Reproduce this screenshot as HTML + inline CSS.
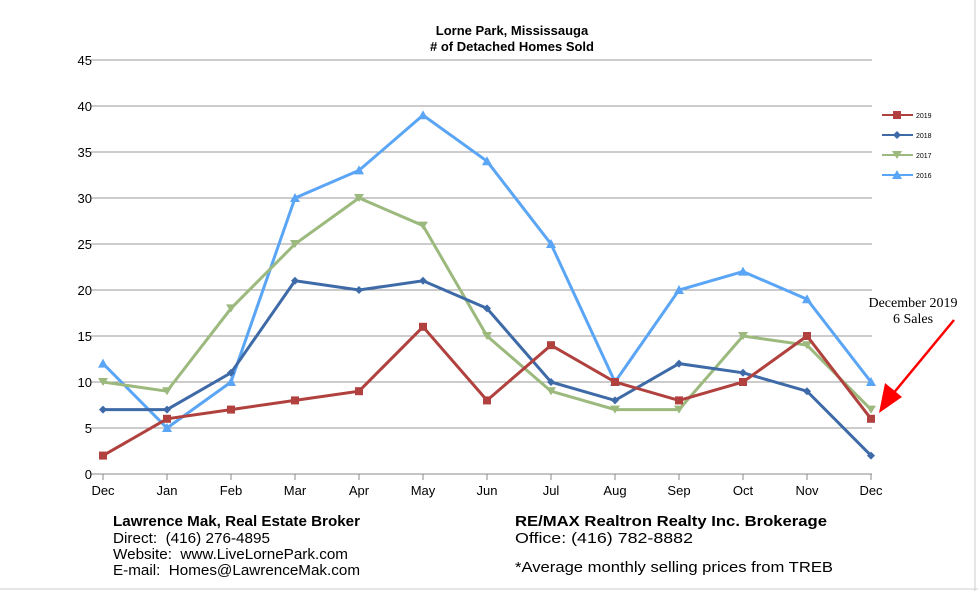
<!DOCTYPE html>
<html><head><meta charset="utf-8"><style>
body{margin:0;background:#fff;font-family:"Liberation Sans",Arial,sans-serif}
svg{display:block}
text{white-space:pre}
</style></head><body>
<svg width="978" height="591" xmlns="http://www.w3.org/2000/svg">
<line x1="975" y1="0" x2="975" y2="591" stroke="#ccc"/>
<line x1="0" y1="589" x2="978" y2="589" stroke="#ccc"/>
<text x="512" y="35" text-anchor="middle" font-size="13" font-weight="bold">Lorne Park, Mississauga</text>
<text x="512" y="51" text-anchor="middle" font-size="13" font-weight="bold"># of Detached Homes Sold</text>
<g id="grid"></g>
<g id="series"></g>
<g id="legend"></g>
<text x="913" y="307" text-anchor="middle" font-size="14" font-family="Liberation Serif,serif">December 2019</text>
<text x="913" y="323" text-anchor="middle" font-size="14" font-family="Liberation Serif,serif">6 Sales</text>
<g>
<line x1="954" y1="320" x2="892" y2="395" stroke="#f00" stroke-width="2.5"/>
<polygon points="879,413 885,383 902,397" fill="#f00"/>
</g>
<g font-size="14.5" lengthAdjust="spacingAndGlyphs">
<text x="113" y="526" font-weight="bold" textLength="247" lengthAdjust="spacingAndGlyphs">Lawrence Mak, Real Estate Broker</text>
<text x="113" y="543" textLength="157" lengthAdjust="spacingAndGlyphs">Direct:  (416) 276-4895</text>
<text x="113" y="559" textLength="235" lengthAdjust="spacingAndGlyphs">Website:  www.LiveLornePark.com</text>
<text x="113" y="575" textLength="247" lengthAdjust="spacingAndGlyphs">E-mail:  Homes@LawrenceMak.com</text>
<text x="515" y="526" font-size="15" font-weight="bold" textLength="312" lengthAdjust="spacingAndGlyphs">RE/MAX Realtron Realty Inc. Brokerage</text>
<text x="515" y="543" font-size="15" textLength="178" lengthAdjust="spacingAndGlyphs">Office: (416) 782-8882</text>
<text x="515" y="572" font-size="15" textLength="318" lengthAdjust="spacingAndGlyphs">*Average monthly selling prices from TREB</text>
</g>
</svg>
<script>
const categories=["Dec","Jan","Feb","Mar","Apr","May","Jun","Jul","Aug","Sep","Oct","Nov","Dec"];
const yTicks=[0,5,10,15,20,25,30,35,40,45];
const s2019=[2,6,7,8,9,16,8,14,10,8,10,15,6];
const s2018=[7,7,11,21,20,21,18,10,8,12,11,9,2];
const s2017=[10,9,18,25,30,27,15,9,7,7,15,14,7];
const s2016=[12,5,10,30,33,39,34,25,10,20,22,19,10];
const seriesNames=["2019","2018","2017","2016"];
const NS="http://www.w3.org/2000/svg";
function X(i){return 103+i*64;}
function Y(v){return 474-v*9.2;}
function mk(t,a,p){const e=document.createElementNS(NS,t);for(const k in a)e.setAttribute(k,a[k]);p.appendChild(e);return e;}
const grid=document.getElementById('grid');
yTicks.forEach(v=>{
 const l=mk('line',{x1:91,x2:872,y1:Y(v),y2:Y(v),stroke:v===0?'#888':'#999','stroke-width':1},grid);
 
 
 const t=mk('text',{x:92,y:Y(v)+5,'text-anchor':'end','font-size':13},grid);
 t.textContent=v;
 
 
});
categories.forEach((c,i)=>{
 const l=mk('line',{x1:X(i),x2:X(i),y1:474,y2:480,stroke:'#888'},grid);
 
 
 const t=mk('text',{x:X(i),y:495,'text-anchor':'middle','font-size':13},grid);
 t.textContent=c;
 
 
});
const colors=["#b0413e","#3e6aa8","#9cb97e","#5aa5f5"];
const shapes=["square","diamond","tridown","triup"];
const data=[s2019,s2018,s2017,s2016];
function marker(sh,x,y,c,p){
 if(sh==="square")return mk('rect',{x:x-4,y:y-4,width:8,height:8,fill:c},p);
 if(sh==="diamond")return mk('polygon',{points:`${x},${y-4} ${x+4},${y} ${x},${y+4} ${x-4},${y}`,fill:c},p);
 if(sh==="tridown")return mk('polygon',{points:`${x-5},${y-4} ${x+5},${y-4} ${x},${y+4}`,fill:c},p);
 return mk('polygon',{points:`${x-5},${y+4} ${x+5},${y+4} ${x},${y-5}`,fill:c},p);
}
const sg=document.getElementById('series');
for(let k=3;k>=0;k--){
 const g=mk('g',{},sg);
 
 
 const pl=mk('polyline',{points:data[k].map((v,i)=>X(i)+','+Y(v)).join(' '),fill:'none',stroke:colors[k],'stroke-width':3},g);
 
 
 data[k].forEach((v,i)=>{
  const m=marker(shapes[k],X(i),Y(v),colors[k],g);
  
  
 });
}
const lg=document.getElementById('legend');
seriesNames.forEach((n,k)=>{
 const y=115+k*20;
 const g=mk('g',{},lg);
 
 
 mk('line',{x1:882,x2:913,y1:y,y2:y,stroke:colors[k],'stroke-width':2},g);
 marker(shapes[k],897,y,colors[k],g);
 const t=mk('text',{x:916,y:y+3,'font-size':7},g);
 t.textContent=n;
});
</script>
</body></html>
